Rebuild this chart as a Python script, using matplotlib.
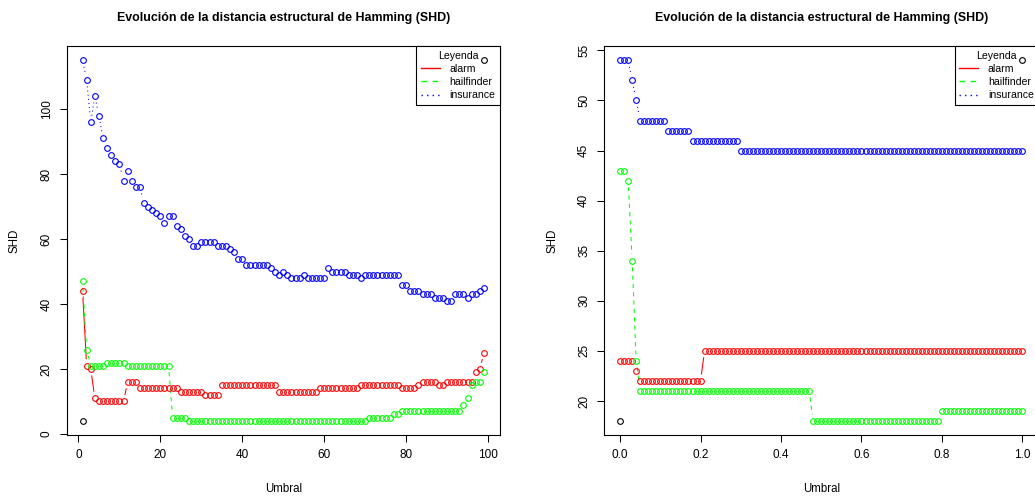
import numpy as np
import matplotlib
matplotlib.use("Agg")
import matplotlib.pyplot as plt
from matplotlib.collections import LineCollection
from matplotlib.lines import Line2D

plt.rcParams['font.family'] = ['Liberation Sans', 'DejaVu Sans']

# ---------------- data ----------------
title = "Evolución de la distancia estructural de Hamming (SHD)"
series_names = ["alarm", "hailfinder", "insurance"]

umbral_left = list(range(1, 100))
alarm_left = [44, 21, 20, 11, 10, 10, 10, 10, 10, 10,
              10, 16, 16, 16, 14, 14, 14, 14, 14, 14,
              14, 14, 14, 14, 13, 13, 13, 13, 13, 13,
              12, 12, 12, 12, 15, 15, 15, 15, 15, 15,
              15, 15, 15, 15, 15, 15, 15, 15, 13, 13,
              13, 13, 13, 13, 13, 13, 13, 13, 14, 14,
              14, 14, 14, 14, 14, 14, 14, 14, 15, 15,
              15, 15, 15, 15, 15, 15, 15, 15, 14, 14,
              14, 14, 15, 16, 16, 16, 16, 15, 15, 16,
              16, 16, 16, 16, 16, 16, 19, 20, 25]
hailfinder_left = [47, 26, 21, 21, 21, 21, 22, 22, 22, 22,
                   22, 21, 21, 21, 21, 21, 21, 21, 21, 21,
                   21, 21, 5, 5, 5, 5, 4, 4, 4, 4,
                   4, 4, 4, 4, 4, 4, 4, 4, 4, 4,
                   4, 4, 4, 4, 4, 4, 4, 4, 4, 4,
                   4, 4, 4, 4, 4, 4, 4, 4, 4, 4,
                   4, 4, 4, 4, 4, 4, 4, 4, 4, 4,
                   5, 5, 5, 5, 5, 5, 6, 6, 7, 7,
                   7, 7, 7, 7, 7, 7, 7, 7, 7, 7,
                   7, 7, 7, 9, 11, 15, 16, 16, 19]
insurance_left = [115, 109, 96, 104, 98, 91, 88, 86, 84, 83,
                  78, 81, 78, 76, 76, 71, 70, 69, 68, 67,
                  65, 67, 67, 64, 63, 61, 60, 58, 58, 59,
                  59, 59, 59, 58, 58, 58, 57, 56, 54, 54,
                  52, 52, 52, 52, 52, 52, 51, 50, 49, 50,
                  49, 48, 48, 48, 49, 48, 48, 48, 48, 48,
                  51, 50, 50, 50, 50, 49, 49, 49, 48, 49,
                  49, 49, 49, 49, 49, 49, 49, 49, 46, 46,
                  44, 44, 44, 43, 43, 43, 42, 42, 42, 41,
                  41, 43, 43, 43, 42, 43, 43, 44, 45]

umbral_right = list(np.round(np.linspace(0.0, 1.0, 101), 2))
alarm_right = [24, 24, 24, 24, 23, 22, 22, 22, 22, 22,
               22, 22, 22, 22, 22, 22, 22, 22, 22, 22,
               22, 25, 25, 25, 25, 25, 25, 25, 25, 25,
               25, 25, 25, 25, 25, 25, 25, 25, 25, 25,
               25, 25, 25, 25, 25, 25, 25, 25, 25, 25,
               25, 25, 25, 25, 25, 25, 25, 25, 25, 25,
               25, 25, 25, 25, 25, 25, 25, 25, 25, 25,
               25, 25, 25, 25, 25, 25, 25, 25, 25, 25,
               25, 25, 25, 25, 25, 25, 25, 25, 25, 25,
               25, 25, 25, 25, 25, 25, 25, 25, 25, 25,
               25]
hailfinder_right = [43, 43, 42, 34, 24, 21, 21, 21, 21, 21,
                    21, 21, 21, 21, 21, 21, 21, 21, 21, 21,
                    21, 21, 21, 21, 21, 21, 21, 21, 21, 21,
                    21, 21, 21, 21, 21, 21, 21, 21, 21, 21,
                    21, 21, 21, 21, 21, 21, 21, 21, 18, 18,
                    18, 18, 18, 18, 18, 18, 18, 18, 18, 18,
                    18, 18, 18, 18, 18, 18, 18, 18, 18, 18,
                    18, 18, 18, 18, 18, 18, 18, 18, 18, 18,
                    19, 19, 19, 19, 19, 19, 19, 19, 19, 19,
                    19, 19, 19, 19, 19, 19, 19, 19, 19, 19,
                    19]
insurance_right = [54, 54, 54, 52, 50, 48, 48, 48, 48, 48,
                   48, 48, 47, 47, 47, 47, 47, 47, 46, 46,
                   46, 46, 46, 46, 46, 46, 46, 46, 46, 46,
                   45, 45, 45, 45, 45, 45, 45, 45, 45, 45,
                   45, 45, 45, 45, 45, 45, 45, 45, 45, 45,
                   45, 45, 45, 45, 45, 45, 45, 45, 45, 45,
                   45, 45, 45, 45, 45, 45, 45, 45, 45, 45,
                   45, 45, 45, 45, 45, 45, 45, 45, 45, 45,
                   45, 45, 45, 45, 45, 45, 45, 45, 45, 45,
                   45, 45, 45, 45, 45, 45, 45, 45, 45, 45,
                   45]

xticks_left = [0, 20, 40, 60, 80, 100]
yticks_left = [0, 20, 40, 60, 80, 100]
xticks_right = [0.0, 0.2, 0.4, 0.6, 0.8, 1.0]
xticklabels_right = ["0.0", "0.2", "0.4", "0.6", "0.8", "1.0"]
yticks_right = [20, 25, 30, 35, 40, 45, 50, 55]

# ---------------- styles ----------------
colors = ["#FF0000", "#00FF00", "#0000FF"]
dash_styles = ["-", (0, (4, 4)), (0, (1, 3))]
LW = 0.75
MS = 4.1
MEW = 0.8
GAP_PX = 6.5
TICK_FS = 8.5
LAB_FS = 8.3

W, H = 1035, 499
fig = plt.figure(figsize=(W / 100, H / 100), dpi=100)
ax_bottom = (H - 435.4) / H
ax_height = 389.4 / H
axL = fig.add_axes([66.5 / W, ax_bottom, 433.5 / W, ax_height])
axR = fig.add_axes([604.0 / W, ax_bottom, 434.5 / W, ax_height])


def r_range(vals):
    lo, hi = min(vals), max(vals)
    r = hi - lo
    return lo - 0.04 * r, hi + 0.04 * r


def draw_series(ax, x, y, color, ls):
    pts = ax.transData.transform(np.column_stack([x, y]))
    segs = []
    for p0, p1 in zip(pts[:-1], pts[1:]):
        d = np.hypot(*(p1 - p0))
        if d > 2 * GAP_PX:
            u = (p1 - p0) / d
            a = p0 + u * GAP_PX
            b = p1 - u * GAP_PX
            segs.append(ax.transData.inverted().transform(np.vstack([a, b])))
    if segs:
        lc = LineCollection(segs, colors=color, linewidths=LW, linestyles=[ls])
        ax.add_collection(lc)
    ax.plot(x, y, linestyle="none", marker="o", mfc="none", mec=color,
            ms=MS, mew=MEW, zorder=3)


def setup_panel(ax, x, ys, xticks, xticklabels, yticks):
    allx = list(x)
    ally = [v for s in ys for v in s]
    ax.set_xlim(*r_range(allx))
    ax.set_ylim(*r_range(ally))
    ax.set_xticks(xticks)
    if xticklabels is not None:
        ax.set_xticklabels(xticklabels)
    ax.set_yticks(yticks)
    ax.tick_params(axis="both", direction="out", length=5.0, width=0.75,
                   labelsize=TICK_FS, colors="black")
    ax.tick_params(axis="x", pad=4.5)
    ax.tick_params(axis="y", pad=5.0)
    for lab in ax.get_yticklabels():
        lab.set_rotation(90)
        lab.set_va("center")
        lab.set_ha("right")
    for sp in ax.spines.values():
        sp.set_linewidth(0.8)
        sp.set_color("black")
    # black points from the initial plot (range of data)
    ax.plot([min(allx), max(allx)], [min(ally), max(ally)], linestyle="none",
            marker="o", mfc="none", mec="black", ms=MS, mew=MEW, zorder=7)
    for y, c, ls in zip(ys, colors, dash_styles):
        draw_series(ax, x, y, c, ls)
    ax.set_title(title, fontsize=8.9, fontweight="bold", y=1.072, va="center", pad=0)
    ax.set_xlabel("Umbral", fontsize=LAB_FS)
    ax.set_ylabel("SHD", fontsize=LAB_FS)
    ax.xaxis.set_label_coords(0.5, -(489 - 435.4) / 389.4)
    ax.xaxis.label.set_va("center")
    wpx = ax.get_position().width * W
    ax.yaxis.set_label_coords(-51.5 / wpx, 0.5)
    ax.yaxis.label.set_va("center")
    handles = [Line2D([], [], color=c, lw=1.0, linestyle=ls) for c, ls in zip(colors, dash_styles)]
    leg = ax.legend(handles, series_names, loc="upper right", title="Leyenda",
                    fontsize=7.6, title_fontsize=7.6, fancybox=False, edgecolor="black",
                    borderaxespad=0, handlelength=1.8, handletextpad=0.9,
                    borderpad=0.45, labelspacing=0.3, framealpha=1)
    leg.get_frame().set_linewidth(0.8)
    leg.set_zorder(6)


setup_panel(axL, umbral_left, [alarm_left, hailfinder_left, insurance_left],
            xticks_left, None, yticks_left)
setup_panel(axR, umbral_right, [alarm_right, hailfinder_right, insurance_right],
            xticks_right, xticklabels_right, yticks_right)

fig.savefig("out.png", dpi=100)
